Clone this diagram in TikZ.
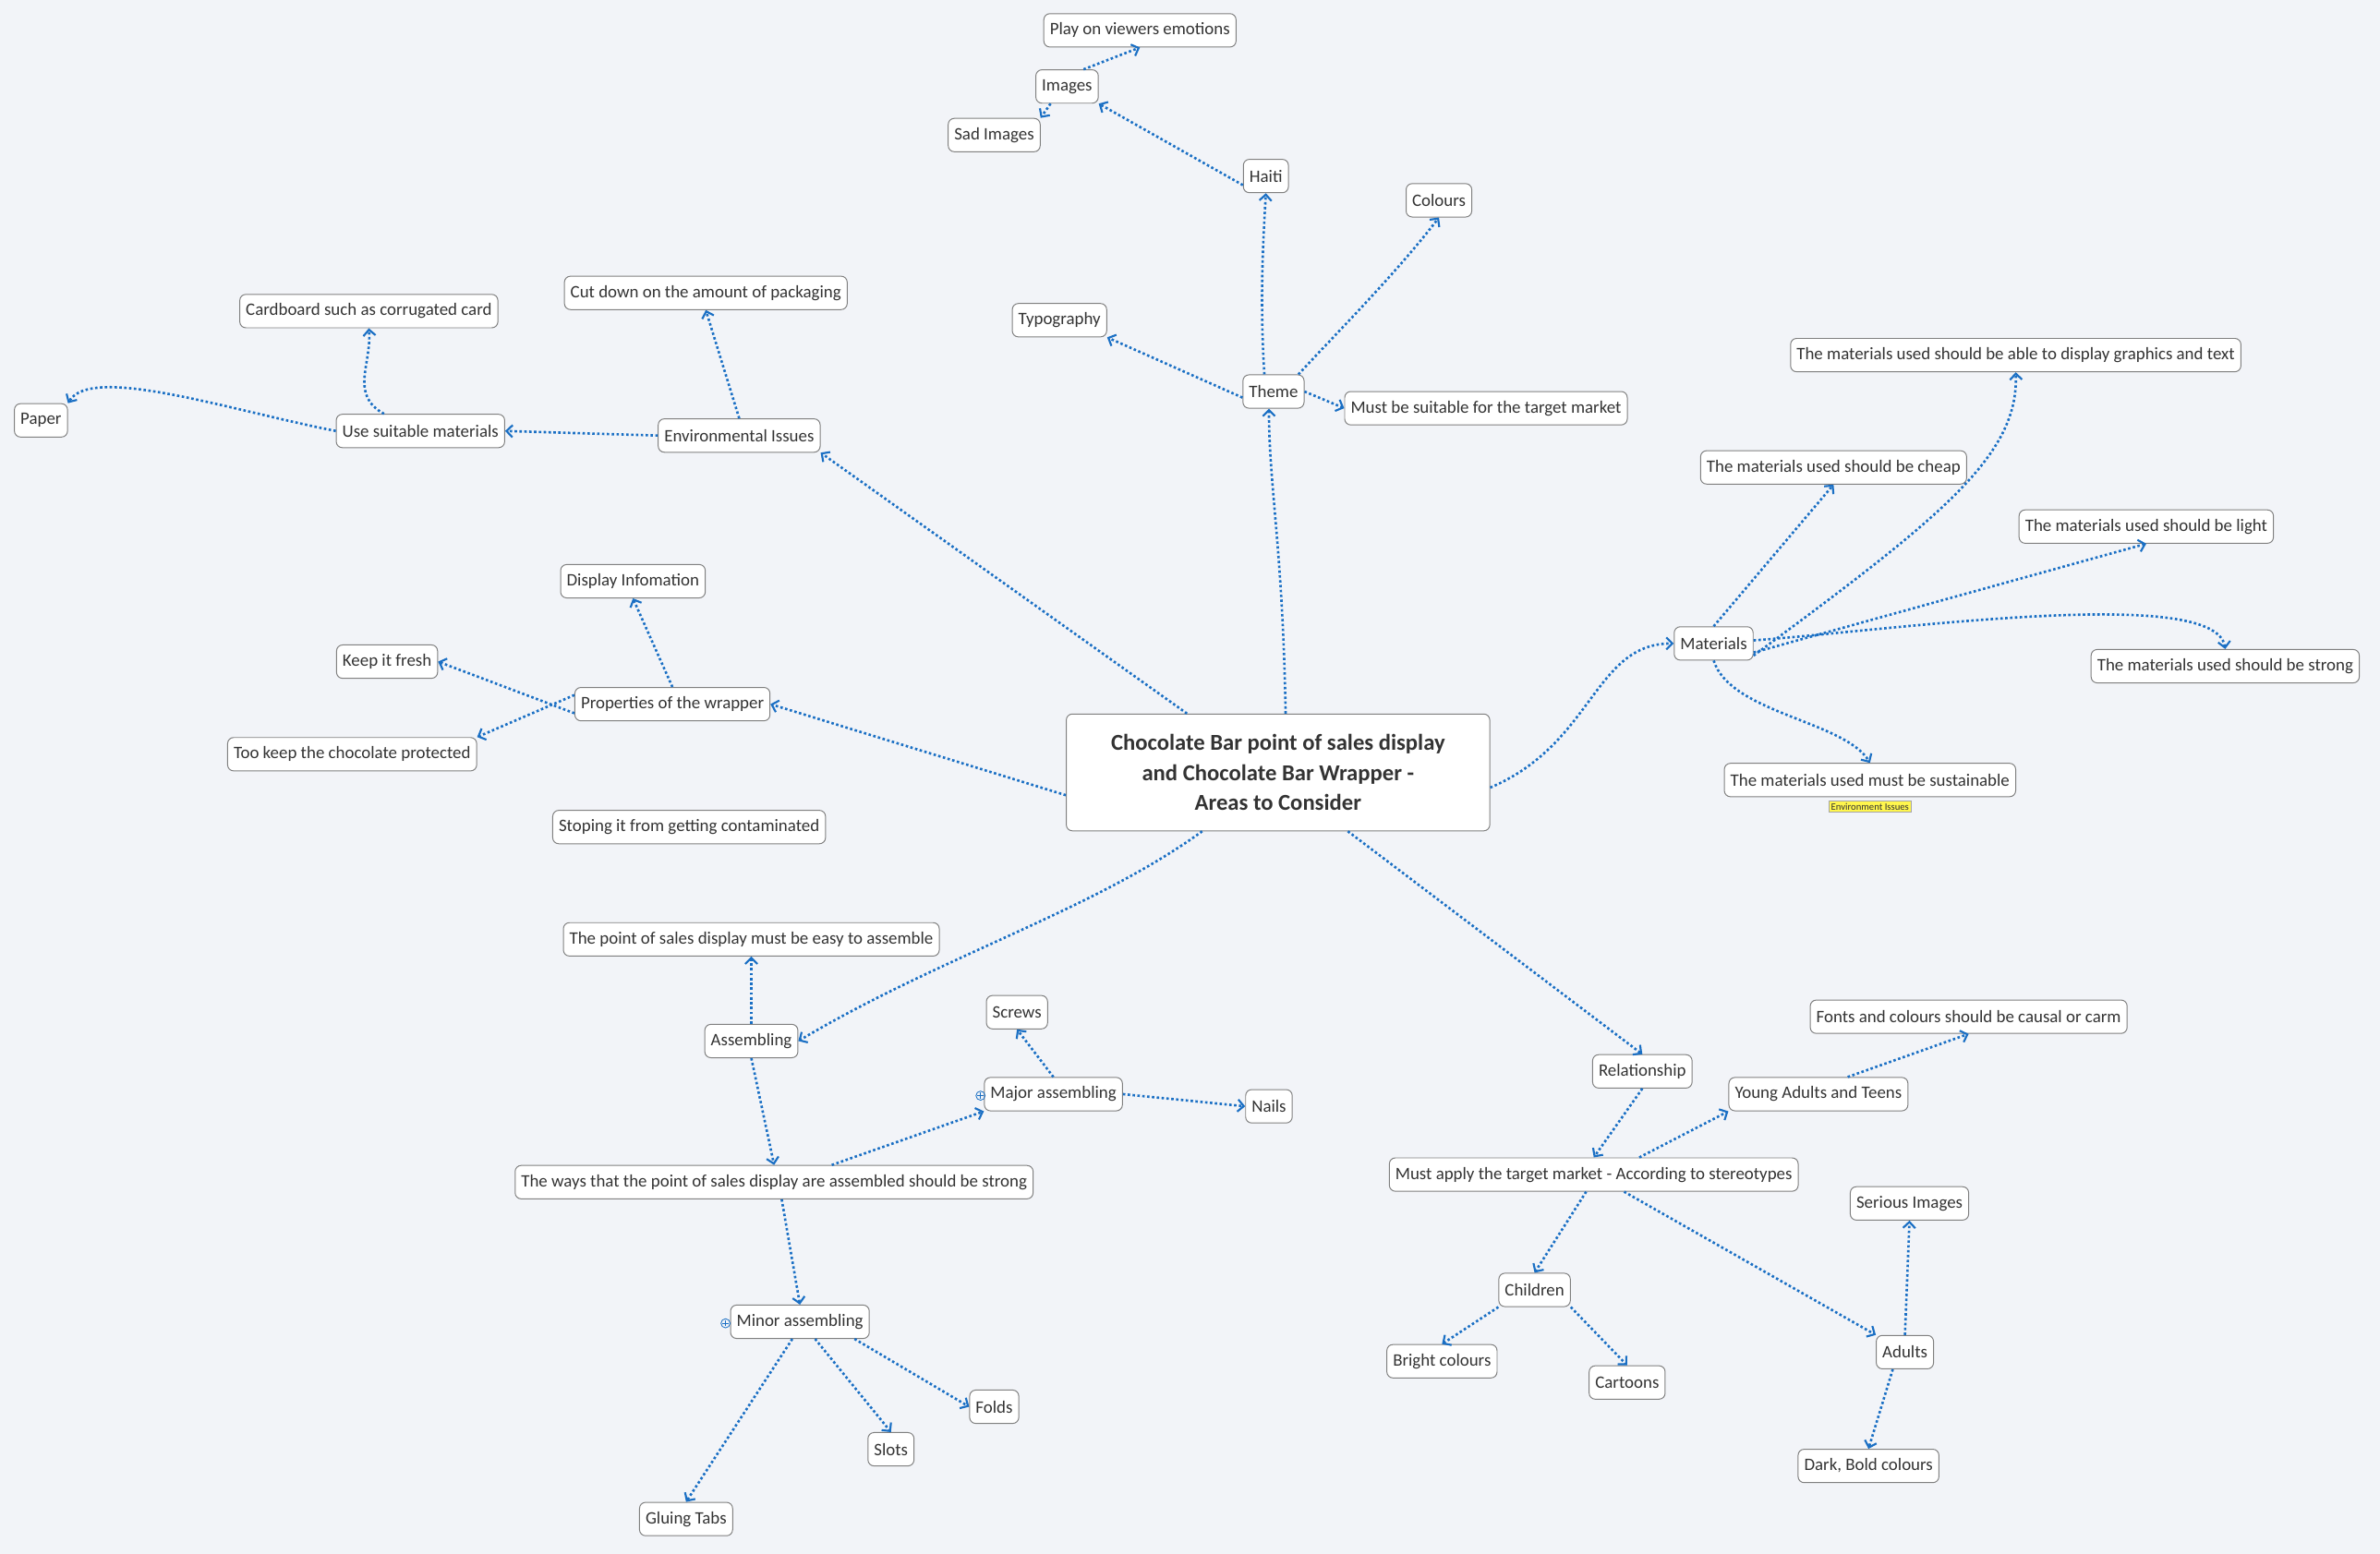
\documentclass[tikz,border=0pt]{standalone}
\usepackage{fontspec}
\setmainfont{Carlito}
\usetikzlibrary{arrows.meta}
\definecolor{bg}{HTML}{F2F4F8}
\definecolor{ln}{HTML}{1A6FC4}
\definecolor{bd}{HTML}{808080}
\definecolor{tx}{HTML}{333333}
\tikzset{
 topic/.style={draw=bd,fill=white,rounded corners=4pt,inner xsep=4pt,minimum height=22,text=tx,font=\fontsize{11.5}{13}\selectfont,line width=0.6pt},
 conn/.style={ln,line width=1.6pt,dash pattern=on 1.6pt off 1.6pt,-{Straight Barb[length=4pt,width=8pt,line width=1.3pt]}}
}
\begin{document}
\begin{tikzpicture}[x=1pt,y=-1pt]
\fill[bg] (0,0) rectangle (1568,1024);
\useasboundingbox (0,0) rectangle (1568,1024);
\node[topic,align=center,font=\bfseries\fontsize{15}{20}\selectfont,minimum width=279,minimum height=77,inner sep=4pt] (c) at (842,509) {Chocolate Bar point of sales display\\and Chocolate Bar Wrapper -\\Areas to Consider};
\node[topic] (theme) at (839,258) {Theme};
\node[topic] (haiti) at (834,116) {Haiti};
\node[topic] (images) at (703,57) {Images};
\node[topic] (play) at (751,20) {Play on viewers emotions};
\node[topic] (sad) at (655,89) {Sad Images};
\node[topic] (colours) at (948,132) {Colours};
\node[topic] (typo) at (698,211) {Typography};
\node[topic] (suit) at (979,269) {Must be suitable for the target market};
\node[topic] (env) at (487,287) {Environmental Issues};
\node[topic] (cut) at (465,193) {Cut down on the amount of packaging};
\node[topic] (usm) at (277,284) {Use suitable materials};
\node[topic] (card) at (243,205) {Cardboard such as corrugated card};
\node[topic] (paper) at (27,277) {Paper};
\node[topic] (prop) at (443,464) {Properties of the wrapper};
\node[topic] (disp) at (417,383) {Display Infomation};
\node[topic] (fresh) at (255,436) {Keep it fresh};
\node[topic] (prot) at (232,497) {Too keep the chocolate protected};
\node[topic] (stop) at (454,545) {Stoping it from getting contaminated};
\node[topic] (mat) at (1129,424) {Materials};
\node[topic] (gfx) at (1328,234) {The materials used should be able to display graphics and text};
\node[topic] (cheap) at (1208,308) {The materials used should be cheap};
\node[topic] (light) at (1414,347) {The materials used should be light};
\node[topic] (strong) at (1466,439) {The materials used should be strong};
\node[topic] (sust) at (1232,514) {The materials used must be sustainable};
\node[draw=bd!70,fill=yellow!70,inner sep=1.5pt,font=\fontsize{6.5}{7}\selectfont,text=tx] (envlab) at (1232,531.5) {Environment Issues};
\node[topic] (rel) at (1082,706) {Relationship};
\node[topic] (apply) at (1050,774) {Must apply the target market - According to stereotypes};
\node[topic] (young) at (1198,721) {Young Adults and Teens};
\node[topic] (fonts) at (1297,670) {Fonts and colours should be causal or carm};
\node[topic] (child) at (1011,850) {Children};
\node[topic] (bright) at (950,897) {Bright colours};
\node[topic] (cart) at (1072,911) {Cartoons};
\node[topic] (adult) at (1255,891) {Adults};
\node[topic] (serious) at (1258,793) {Serious Images};
\node[topic] (dark) at (1231,966) {Dark, Bold colours};
\node[topic] (asm) at (495,686) {Assembling};
\node[topic] (easy) at (495,619) {The point of sales display must be easy to assemble};
\node[topic] (ways) at (510,779) {The ways that the point of sales display are assembled should be strong};
\node[topic] (major) at (694,721) {Major assembling};
\node[topic] (screws) at (670,667) {Screws};
\node[topic] (nails) at (836,729) {Nails};
\node[topic] (minor) at (527,871) {Minor assembling};
\node[topic] (folds) at (655,927) {Folds};
\node[topic] (slots) at (587,955) {Slots};
\node[topic] (glue) at (452,1001) {Gluing Tabs};
% plus markers
\foreach \p/\q in {646/722,478/872}{
 \draw[ln,line width=0.5pt] (\p,\q) circle (3);
 \draw[ln,line width=0.5pt] (\p-2,\q)--(\p+2,\q) (\p,\q-2)--(\p,\q+2);}
% connectors
\draw[conn] ([xshift=5pt]c.north) .. controls (845,360) and (836,320) .. ([xshift=-3pt]theme.south);
\draw[conn] ([xshift=-6pt]theme.north) .. controls (830,200) and (832,160) .. (haiti.south);
\draw[conn] ([yshift=-6pt]haiti.west) -- (images.south east);
\draw[conn] ([xshift=-10pt]images.north east) -- (play.south);
\draw[conn] ([xshift=10pt]images.south west) -- (sad.north east);
\draw[conn] ([xshift=-4pt]theme.north east) .. controls (880,220) and (920,180) .. (colours.south);
\draw[conn] ([yshift=-4pt]theme.west) -- (typo.south east);
\draw[conn] (theme.east) -- (suit.west);
\draw[conn] ([xshift=-60pt]c.north) -- (env.south east);
\draw[conn] (env.north) -- (cut.south);
\draw[conn] (env.west) -- (usm.east);
\draw[conn] ([xshift=-24pt]usm.north) .. controls (230,260) and (245,240) .. (card.south);
\draw[conn] (usm.west) .. controls (150,270) and (60,240) .. (paper.north east);
\draw[conn] ([yshift=-15pt]c.west) -- (prop.east);
\draw[conn] (prop.north) -- (disp.south);
\draw[conn] ([yshift=-6pt]prop.west) -- (fresh.east);
\draw[conn] ([yshift=6pt]prop.west) -- (prot.north east);
\draw[conn] ([yshift=-10pt]c.east) .. controls (1050,490) and (1050,424) .. (mat.west);
\draw[conn] ([yshift=-8pt]mat.east) .. controls (1280,340) and (1330,300) .. (gfx.south);
\draw[conn] (mat.north) -- (cheap.south);
\draw[conn] ([yshift=-6pt]mat.east) -- (light.south);
\draw[conn] ([yshift=2pt]mat.east) .. controls (1250,415) and (1460,385) .. (strong.north);
\draw[conn] (mat.south) .. controls (1140,470) and (1215,475) .. (sust.north);
\draw[conn] ([xshift=46pt]c.south) -- (rel.north);
\draw[conn] (rel.south) -- (apply.north);
\draw[conn] ([xshift=30pt]apply.north) -- (young.south west);
\draw[conn] ([xshift=-40pt]young.north east) -- (fonts.south);
\draw[conn] ([xshift=-5pt]apply.south) -- (child.north);
\draw[conn] (child.south west) -- (bright.north);
\draw[conn] (child.south east) -- (cart.north);
\draw[conn] ([xshift=20pt]apply.south) -- (adult.north west);
\draw[conn] (adult.north) -- (serious.south);
\draw[conn] ([xshift=-8pt]adult.south) -- (dark.north);
\draw[conn] ([xshift=-50pt]c.south) .. controls (720,600) and (620,630) .. (asm.east);
\draw[conn] (asm.north) -- (easy.south);
\draw[conn] (asm.south) -- (ways.north);
\draw[conn] ([xshift=38pt]ways.north) -- (major.south west);
\draw[conn] (major.north) -- (screws.south);
\draw[conn] (major.east) -- (nails.west);
\draw[conn] ([xshift=5pt]ways.south) -- (minor.north);
\draw[conn] ([xshift=-10pt]minor.south east) -- (folds.west);
\draw[conn] ([xshift=10pt]minor.south) -- (slots.north);
\draw[conn] ([xshift=-5pt]minor.south) -- (glue.north);
\end{tikzpicture}
\end{document}
